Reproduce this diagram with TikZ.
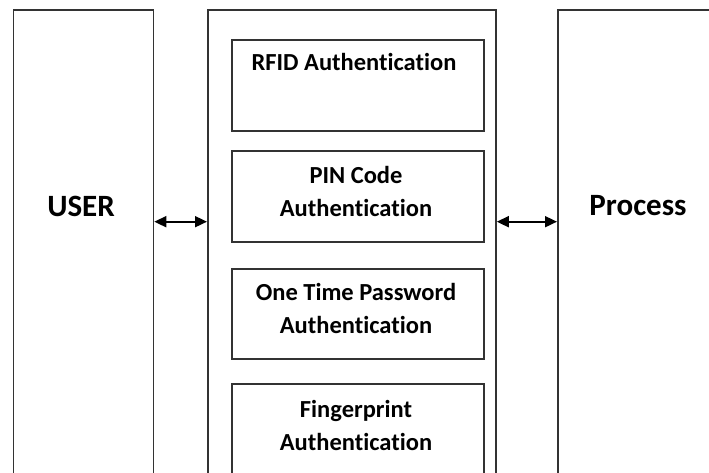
\documentclass[tikz,border=0pt]{standalone}
\usepackage{fontspec}
\setmainfont{Carlito}[Ligatures=NoCommon]
\usetikzlibrary{arrows.meta}
\begin{document}
\begin{tikzpicture}[x=1pt,y=-1pt,
  frame/.style={draw=black!80, line width=1.8pt, anchor=north west, inner sep=0pt},
  inner/.style={frame, minimum width=252pt},
  bigtext/.style={font=\bfseries\fontsize{31}{36}\selectfont},
  smalltext/.style={font=\bfseries\fontsize{24.5}{33}\selectfont, align=center},
  link/.style={line width=1.8pt, {Triangle[length=12pt,width=11pt]}-{Triangle[length=12pt,width=11pt]}}]
  \useasboundingbox (0,0) rectangle (709,473);
  \clip (0,0) rectangle (709,473);
  % outer columns, running past the lower edge
  \node[frame, minimum width=140pt, minimum height=500pt] (user) at (12.5,9.5) {};
  \node[frame, minimum width=288pt, minimum height=500pt] (auth) at (207,9.5) {};
  \node[frame, minimum width=200pt, minimum height=500pt] (proc) at (557,9.5) {};
  % authentication methods
  \node[inner, minimum height=91pt] (rfid) at (231,39) {};
  \node[inner, minimum height=91pt] (pin) at (231,150) {};
  \node[inner, minimum height=90pt] (otp) at (231,268) {};
  \node[inner, minimum height=120pt] (fp) at (231,383) {};
  % labels
  \node[bigtext] (userlbl) at (81,206) {USER};
  \node[bigtext] (proclbl) at (638,206) {Process};
  \node[smalltext] (rfidlbl) at (354,62) {RFID Authentication};
  \node[smalltext] (pinlbl) at (356,191.5) {PIN Code\\Authentication};
  \node[smalltext] (otplbl) at (356,308.5) {One Time Password\\Authentication};
  \node[smalltext] (fplbl) at (356,425) {Fingerprint\\Authentication};
  % links between the columns
  \coordinate (row) at (0,221.7);
  \draw[link] (user.east |- row) -- (auth.west |- row);
  \draw[link] (auth.east |- row) -- (proc.west |- row);
\end{tikzpicture}
\end{document}
